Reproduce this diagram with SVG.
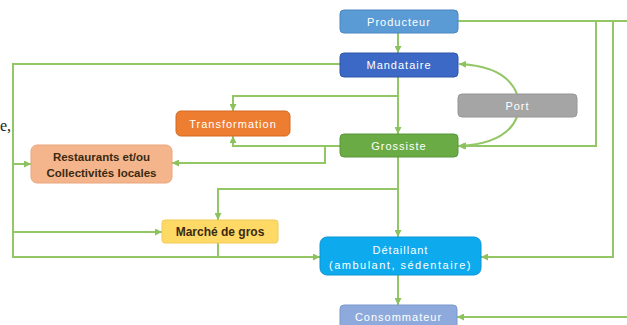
<svg xmlns="http://www.w3.org/2000/svg" width="627" height="325" viewBox="0 0 627 325">
<defs>
<marker id="arr" viewBox="0 0 10 10" refX="10" refY="5" markerWidth="7" markerHeight="7" markerUnits="userSpaceOnUse" orient="auto">
<path d="M0,0 L10,5 L0,10 z" fill="#8cc25e"/>
</marker>
<style>
.c{fill:none;stroke:#93c766;stroke-width:2}
.a{marker-end:url(#arr)}
.n{stroke-width:1}
.w{font-family:"Liberation Sans",Arial,sans-serif;font-size:11px;fill:#ffffff;text-anchor:middle;letter-spacing:1px}
.d{font-family:"Liberation Sans",Arial,sans-serif;font-size:11.5px;font-weight:bold;fill:#3a2a10;text-anchor:middle}
</style>
</defs>
<rect width="627" height="325" fill="#ffffff"/>
<text x="0" y="131" font-family="Liberation Serif,serif" font-size="16" fill="#222">e,</text>
<g id="connectors">
<path class="c a" d="M398,33 V53"/>
<path class="c a" d="M398,77 V134"/>
<path class="c a" d="M398,157 V237"/>
<path class="c a" d="M398,275 V305"/>
<path class="c a" d="M340,64 H13 V257 H320"/>
<path class="c a" d="M13,164 H31"/>
<path class="c a" d="M13,232 H162"/>
<path class="c a" d="M398,96 H233 V111"/>
<path class="c a" d="M340,146 H233 V136"/>
<path class="c a" d="M325,146 V163 H172"/>
<path class="c a" d="M398,189 H218 V220"/>
<path class="c" d="M218,243 V257"/>
<path class="c" d="M458,21 H627"/>
<path class="c a" d="M596,21 V146 H458"/>
<path class="c a" d="M613,21 V257 H481"/>
<path class="c a" d="M627,317 H457"/>
<path class="c a" d="M517,94 Q506,66 459,64"/>
<path class="c a" d="M517,117 Q506,144 459,146"/>
</g>
<g id="producteur">
<rect class="n" x="340" y="10" width="118" height="23" rx="4" fill="#5b9bd5" stroke="#4a86c0"/>
<text class="w" x="399" y="25.5">Producteur</text>
</g>
<g id="mandataire">
<rect class="n" x="340" y="53" width="118" height="24" rx="4" fill="#3c69c6" stroke="#2f56a8"/>
<text class="w" x="399" y="69">Mandataire</text>
</g>
<g id="port">
<rect class="n" x="458" y="94" width="119" height="23" rx="4" fill="#a5a5a5" stroke="#969696"/>
<text class="w" x="517.5" y="109.5">Port</text>
</g>
<g id="grossiste">
<rect class="n" x="340" y="134" width="118" height="23" rx="4" fill="#6aab45" stroke="#5b963a"/>
<text class="w" x="399" y="149.5">Grossiste</text>
</g>
<g id="transformation">
<rect class="n" x="176" y="111" width="114" height="25" rx="5" fill="#ed7d31" stroke="#d46a22"/>
<text class="w" x="233" y="127.5">Transformation</text>
</g>
<g id="restaurants">
<rect class="n" x="31" y="145" width="141" height="38" rx="6" fill="#f4b48c" stroke="#e8a77d"/>
<text class="d" x="101.5" y="161">Restaurants et/ou</text>
<text class="d" x="101.5" y="177">Collectivités locales</text>
</g>
<g id="marche">
<rect class="n" x="162" y="220" width="116" height="23" rx="3" fill="#ffd966" stroke="#f0ca55"/>
<text class="d" x="220" y="236" style="font-size:12px">Marché de gros</text>
</g>
<g id="detaillant">
<rect class="n" x="320" y="237" width="161" height="38" rx="7" fill="#0eaaee" stroke="#0b94d4"/>
<text class="w" x="400.5" y="254">Détaillant</text>
<text class="w" x="400.5" y="269" style="letter-spacing:1.5px">(ambulant, sédentaire)</text>
</g>
<g id="consommateur">
<rect class="n" x="340" y="305" width="117" height="24" rx="4" fill="#8eaadc" stroke="#7b98cc"/>
<text class="w" x="398.5" y="320.5">Consommateur</text>
</g>
</svg>
